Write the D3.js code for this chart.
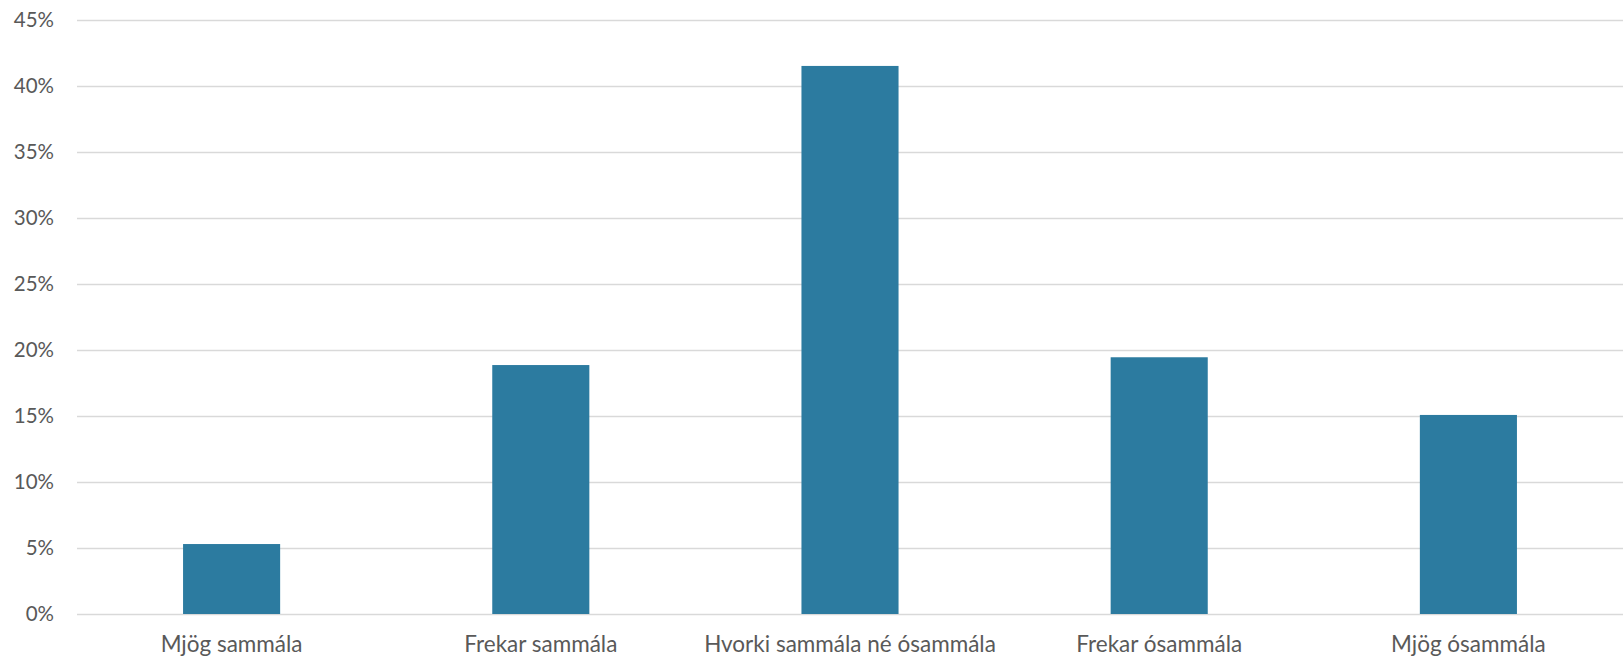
<!DOCTYPE html>
<html>
<head>
<meta charset="utf-8">
<script src="https://cdn.jsdelivr.net/npm/d3@7"></script>
<style>
  html, body { margin: 0; padding: 0; background: #fff; }
  svg { display: block; }
</style>
</head>
<body>
<svg id="chart" width="1623" height="656"></svg>
<script>
const categories = ["Mjög sammála", "Frekar sammála", "Hvorki sammála né ósammála", "Frekar ósammála", "Mjög ósammála"];
const values = [0.053, 0.1886, 0.4152, 0.1945, 0.1508];
const yTicks = [0, 0.05, 0.10, 0.15, 0.20, 0.25, 0.30, 0.35, 0.40, 0.45];

const W = 1623, H = 656;
const margin = { left: 77, right: 0, top: 20, bottom: 42 };
const svg = d3.select("#chart");

const x = d3.scaleBand().domain(categories)
  .range([margin.left, W - margin.right])
  .paddingInner(0.686).paddingOuter(0.343);
const y = d3.scaleLinear().domain([0, 0.45]).range([H - margin.bottom, margin.top]);

const font = "Lato, 'Open Sans', sans-serif";

// gridlines
const yAxis = d3.axisLeft(y).tickValues(yTicks)
  .tickFormat(d3.format(".0%"))
  .tickSize(-(W - margin.left - margin.right)).tickPadding(23);
const gy = svg.append("g").attr("transform", `translate(${margin.left},0)`).call(yAxis);
gy.select(".domain").remove();
gy.selectAll(".tick line").attr("stroke", "#d9d9d9").attr("stroke-width", 1.5);
gy.selectAll(".tick text").attr("fill", "#595959")
  .style("font-family", font).style("font-size", "20.5px");

// bars
svg.append("g").selectAll("rect").data(categories).join("rect")
  .attr("x", d => x(d))
  .attr("width", x.bandwidth())
  .attr("y", (d, i) => y(values[i]))
  .attr("height", (d, i) => y(0) - y(values[i]))
  .attr("fill", "#2C7BA0");

// x axis labels
const xAxis = d3.axisBottom(x).tickSize(0).tickPadding(22);
const gx = svg.append("g").attr("transform", `translate(0,${y(0)})`).call(xAxis);
gx.select(".domain").remove();
gx.selectAll(".tick text").attr("fill", "#595959")
  .style("font-family", font).style("font-size", "22.5px");
</script>
</body>
</html>
